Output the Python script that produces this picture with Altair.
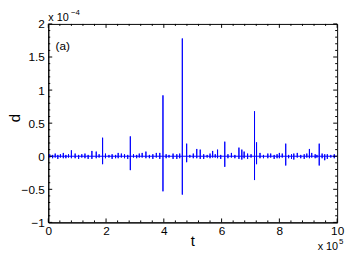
import altair as alt
import pandas as pd

# spikes: time (x 1e5), upper peak and lower peak (x 1e-4)
spike_t = [0.80, 1.51, 1.66, 1.88, 2.42, 2.84, 3.25, 3.38, 3.86, 3.97, 4.32, 4.64,
           4.79, 5.14, 5.26, 5.69, 5.86, 6.11, 6.60, 6.70, 6.78, 7.14, 7.21, 7.33,
           7.60, 8.00, 8.22, 8.50, 9.04, 9.12, 9.38, 9.57]
spike_up = [0.09, 0.08, 0.07, 0.28, 0.05, 0.30, 0.05, 0.07, 0.05, 0.92, 0.04, 1.78,
            0.19, 0.11, 0.10, 0.08, 0.10, 0.22, 0.13, 0.10, 0.07, 0.68, 0.21, 0.05,
            0.04, 0.05, 0.19, 0.04, 0.11, 0.05, 0.19, 0.03]
spike_dn = [-0.03, -0.04, -0.03, -0.12, -0.03, -0.21, -0.02, -0.03, -0.04, -0.53, -0.04, -0.58,
            -0.09, -0.03, -0.04, -0.02, -0.03, -0.16, -0.04, -0.05, -0.03, -0.36, -0.12, -0.03,
            -0.03, -0.03, -0.14, -0.05, -0.03, -0.02, -0.14, -0.06]

# small background fluctuations
noise_t = [0.05, 0.15, 0.24, 0.33, 0.42, 0.52, 0.61, 0.70, 0.93, 1.05,
           1.16, 1.27, 1.38, 1.76, 1.98, 2.10, 2.21, 2.33, 2.53, 2.64,
           2.75, 2.95, 3.06, 3.15, 3.50, 3.62, 3.74, 4.08, 4.18, 4.45,
           4.55, 4.90, 5.02, 5.38, 5.50, 5.60, 5.78, 5.97, 6.22, 6.34,
           6.46, 6.90, 7.02, 7.45, 7.70, 7.82, 7.92, 8.10, 8.32, 8.42,
           8.62, 8.74, 8.86, 8.95, 9.24, 9.30, 9.48, 9.66, 9.78, 9.90]
noise_up = [0.03, 0.02, 0.04, 0.02, 0.03, 0.05, 0.02, 0.03, 0.04, 0.02,
            0.03, 0.04, 0.02, 0.03, 0.04, 0.02, 0.03, 0.02, 0.04, 0.03,
            0.02, 0.03, 0.02, 0.04, 0.02, 0.03, 0.05, 0.03, 0.02, 0.03,
            0.04, 0.02, 0.04, 0.03, 0.02, 0.04, 0.03, 0.02, 0.03, 0.05,
            0.02, 0.04, 0.03, 0.02, 0.04, 0.02, 0.03, 0.04, 0.02, 0.03,
            0.05, 0.02, 0.03, 0.04, 0.03, 0.02, 0.04, 0.03, 0.02, 0.03]
noise_dn = [-0.02, -0.03, -0.02, -0.04, -0.02, -0.03, -0.03, -0.02, -0.03, -0.04,
            -0.02, -0.03, -0.04, -0.02, -0.03, -0.02, -0.04, -0.03, -0.02, -0.03,
            -0.04, -0.02, -0.03, -0.02, -0.03, -0.04, -0.02, -0.03, -0.02, -0.04,
            -0.03, -0.02, -0.03, -0.04, -0.02, -0.03, -0.02, -0.04, -0.03, -0.02,
            -0.03, -0.04, -0.02, -0.03, -0.02, -0.04, -0.03, -0.02, -0.03, -0.04,
            -0.02, -0.03, -0.04, -0.02, -0.03, -0.02, -0.03, -0.04, -0.02, -0.03]

x_ticks = [0, 2, 4, 6, 8, 10]
y_ticks = [-1, -0.5, 0, 0.5, 1, 1.5, 2]
x_minor = [0.4, 0.8, 1.2, 1.6, 2.4, 2.8, 3.2, 3.6, 4.4, 4.8, 5.2, 5.6,
           6.4, 6.8, 7.2, 7.6, 8.4, 8.8, 9.2, 9.6]
y_minor = [v / 10 for v in range(-10, 21) if v % 5 != 0]

W, H = 294, 202
FONT = "Liberation Sans"

events = sorted(list(zip(spike_t, spike_up, spike_dn)) + list(zip(noise_t, noise_up, noise_dn)))
rows = [{"t": 0.0, "d": 0.0}]
for t, u, dn in events:
    rows += [{"t": t, "d": 0.0}, {"t": t, "d": u}, {"t": t, "d": dn}, {"t": t, "d": 0.0}]
rows.append({"t": 10.0, "d": 0.0})
df = pd.DataFrame(rows)
df["i"] = range(len(df))

xs = alt.Scale(domain=[0, 10], nice=False, zero=False)
ys = alt.Scale(domain=[-1, 2], nice=False, zero=False)
ax_x = alt.Axis(values=x_ticks, ticks=False, grid=False, title=None,
                labelPadding=3, labelFlush=False, format="d")
ax_y = alt.Axis(values=y_ticks, ticks=False, grid=False, title=None,
                labelPadding=4, format="~g")

line = alt.Chart(df).mark_line(color="#0000ff", strokeWidth=1, clip=True).encode(
    x=alt.X("t:Q", scale=xs, axis=ax_x),
    y=alt.Y("d:Q", scale=ys, axis=ax_y),
    order="i:Q",
)


def xt(vals, y0, y1):
    return alt.Chart(pd.DataFrame({"t": vals})).mark_rule(color="black", strokeWidth=1).encode(
        x=alt.X("t:Q", scale=xs, axis=ax_x), y=alt.value(y0), y2=alt.value(y1))


def yt(vals, x0, x1):
    return alt.Chart(pd.DataFrame({"d": vals})).mark_rule(color="black", strokeWidth=1).encode(
        y=alt.Y("d:Q", scale=ys, axis=ax_y), x=alt.value(x0), x2=alt.value(x1))


ticks = [
    xt(x_ticks, H, H - 4), xt(x_ticks, 0, 4), xt(x_minor, H, H - 2), xt(x_minor, 0, 2),
    yt(y_ticks, 0, 4), yt(y_ticks, W, W - 4), yt(y_minor, 0, 2), yt(y_minor, W, W - 2),
]


def txt(s, x, y, size, align="left", baseline="alphabetic", angle=0):
    return alt.Chart(pd.DataFrame({"s": [s]})).mark_text(
        align=align, baseline=baseline, fontSize=size, font=FONT, color="black", angle=angle
    ).encode(x=alt.value(x), y=alt.value(y), text="s:N")


label_a = alt.Chart(pd.DataFrame({"t": [0.25], "d": [1.67], "s": ["(a)"]})).mark_text(
    align="left", baseline="middle", fontSize=12, font=FONT, color="black"
).encode(x=alt.X("t:Q", scale=xs, axis=ax_x), y=alt.Y("d:Q", scale=ys, axis=ax_y), text="s:N")

texts = [
    label_a,
    txt("x 10", 0, -3, 11),
    txt("\u22124", 23, -9, 8),
    txt("x 10", 295, 230, 11, align="right"),
    txt("5", 296, 224, 8),
    txt("t", 147, 226, 15, align="center"),
    txt("d", -34, 96, 15, align="center", baseline="middle", angle=270),
]

chart = alt.layer(line, *ticks, *texts).properties(
    width=W, height=H,
    padding={"left": 41, "top": 14, "right": 8, "bottom": 32},
    autosize=alt.AutoSizeParams(type="none"),
).configure_view(stroke="black", strokeWidth=1).configure_axis(
    labelFont=FONT, labelFontSize=12, labelColor="black", domainColor="black", domainWidth=1,
)

chart.save("out.html", embed_options={"renderer": "svg", "actions": False})
